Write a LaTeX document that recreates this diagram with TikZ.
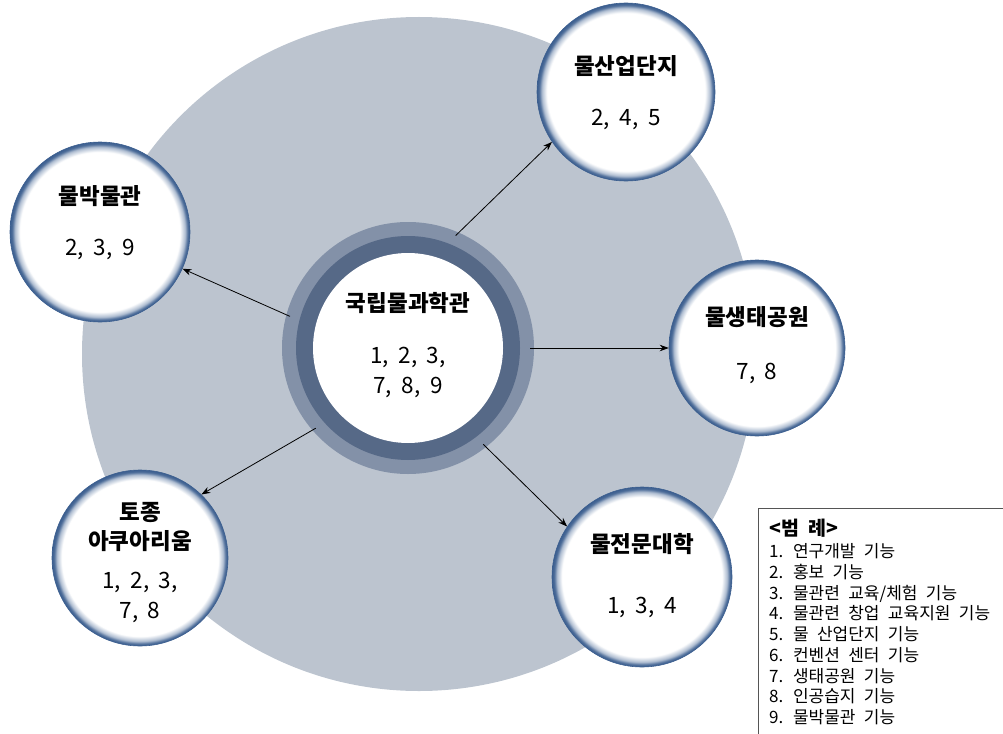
\documentclass[tikz,border=0pt]{standalone}
\usepackage{fontspec}
\setmainfont{Noto Sans CJK KR}[WordSpace=1.9]
\newfontfamily\legfont{Noto Sans CJK KR}[WordSpace=2.2]
\usetikzlibrary{arrows.meta}
\definecolor{bgcirc}{HTML}{BCC4CF}
\definecolor{ringlight}{HTML}{8391A8}
\definecolor{ringdark}{HTML}{566987}
\definecolor{satblue}{HTML}{3B5E8F}
\definecolor{legborder}{HTML}{555555}
\pgfdeclareradialshading{glow}{\pgfpoint{0bp}{0bp}}{%
  color(0bp)=(white); color(22.2bp)=(white); color(23.6bp)=(satblue!40!white);
  color(24.4bp)=(satblue!90!white); color(25bp)=(satblue); color(50bp)=(satblue)}
\tikzset{
  sat/.style={circle, inner sep=0pt, minimum size=#1, shade, shading=glow,
    draw=satblue, line width=0.6pt},
  ttl/.style={font=\fontsize{22.5}{27}\selectfont\bfseries, inner sep=0pt},
  num/.style={font=\fontsize{22.5}{27}\selectfont, inner sep=0pt},
  conn/.style={-{Stealth[length=9pt,width=6.5pt]}, line width=0.8pt, black},
}
\begin{document}
\begin{tikzpicture}[x=1pt,y=-1pt]
\useasboundingbox (0,0) rectangle (1003,733);
% background disc
\fill[bgcirc] (419,354) circle[radius=337pt];
% center rings
\coordinate (cc) at (408,348);
\fill[ringlight] (cc) circle[radius=126pt];
\fill[ringdark] (cc) circle[radius=112pt];
\fill[white] (cc) circle[radius=95pt];
\node (c) [circle, inner sep=0pt, minimum size=244pt] at (cc) {};
\node (ct) [ttl] at (408,303) {국립물과학관};
\node (cn1) [num] at (408,357) {1, 2, 3,};
\node (cn2) [num] at (408,387) {7, 8, 9};
% satellites
\node (s1) [sat=178pt] at (626,92) {};
\node (s1t) [ttl] at (626,66) {물산업단지};
\node (s1n) [num] at (626,119) {2, 4, 5};
\node (s2) [sat=180pt] at (100,232) {};
\node (s2t) [ttl] at (100,196) {물박물관};
\node (s2n) [num] at (100,249) {2, 3, 9};
\node (s3) [sat=176pt] at (757,348) {};
\node (s3t) [ttl] at (757,317) {물생태공원};
\node (s3n) [num] at (757,373) {7, 8};
\node (s4) [sat=180pt] at (642,577) {};
\node (s4t) [ttl] at (642,544) {물전문대학};
\node (s4n) [num] at (642,607) {1, 3, 4};
\node (s5) [sat=176pt] at (140,558) {};
\node (s5t1) [ttl] at (140,512) {토종};
\node (s5t2) [ttl] at (140,541) {아쿠아리움};
\node (s5n1) [num] at (140,582) {1, 2, 3,};
\node (s5n2) [num] at (140,612) {7, 8};
% connectors
\draw[conn] (c.67) -- (s1.214);
\draw[conn] (c.165) -- (s2.336);
\draw[conn] (c.0) -- (s3.180);
\draw[conn] (c.308) -- (s4.146);
\draw[conn] (c.221) -- (s5.46);
% legend
\node (legbox) [draw=legborder, line width=1.2pt, fill=white, anchor=north west,
  minimum width=270pt, minimum height=240pt, inner sep=0pt] at (758,508) {};
\node (legtext) [anchor=north west, align=left, inner sep=0pt,
  font=\legfont\fontsize{17}{20.7}\selectfont] at (769,519)
  {{\fontsize{19.5}{20.7}\selectfont\bfseries <범 례>}\\[1.5pt]
   1. 연구개발 기능\\
   2. 홍보 기능\\
   3. 물관련 교육/체험 기능\\
   4. 물관련 창업 교육지원 기능\\
   5. 물 산업단지 기능\\
   6. 컨벤션 센터 기능\\
   7. 생태공원 기능\\
   8. 인공습지 기능\\
   9. 물박물관 기능};
\end{tikzpicture}
\end{document}
